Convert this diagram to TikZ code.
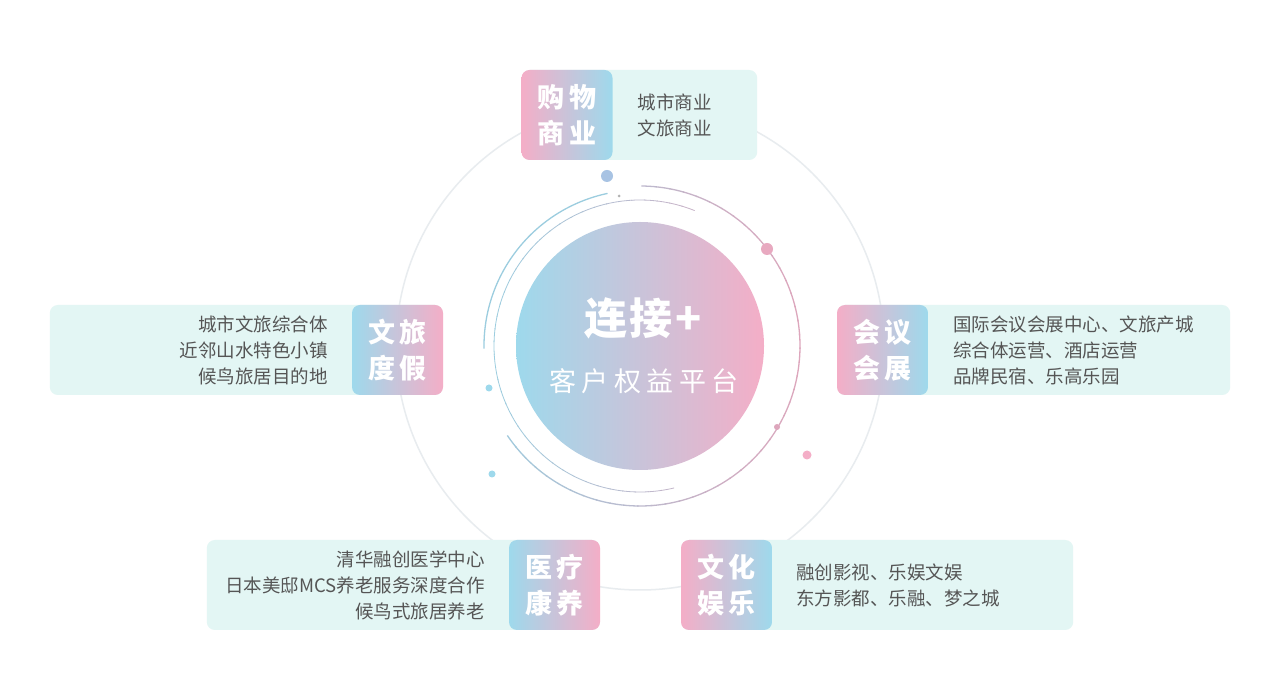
\documentclass[tikz,border=0pt]{standalone}
\usepackage{fontspec}
\setmainfont{Noto Sans CJK SC}
\newfontfamily\labfont[LetterSpace=16]{Noto Sans CJK SC}
\newfontfamily\titlefont[LetterSpace=6]{Noto Sans CJK SC}
\newfontfamily\subfont[LetterSpace=20]{Noto Sans CJK SC}
\usetikzlibrary{positioning}
\definecolor{skyblue}{HTML}{9ED9EC}
\definecolor{rosepink}{HTML}{F4AEC7}
\definecolor{mint}{HTML}{E3F6F4}
\definecolor{ringgray}{HTML}{E8ECEF}
\definecolor{arcblue}{HTML}{9CCDDF}
\definecolor{arcpink}{HTML}{DDA6BC}
\definecolor{dotblue}{HTML}{A8C3E3}
\definecolor{txtgray}{HTML}{555555}
\tikzset{
  panel/.style={fill=mint, rounded corners=8pt, minimum height=90pt, inner sep=0pt},
  tag/.style={rounded corners=8pt, minimum width=91pt, minimum height=90pt, inner sep=0pt,
    text=white, align=center, font=\labfont\bfseries\fontsize{27}{36}\selectfont},
  tagpb/.style={tag, left color=rosepink, right color=skyblue},
  tagbp/.style={tag, left color=skyblue, right color=rosepink},
  items/.style={text=txtgray, font=\fontsize{18.5}{26}\selectfont, inner sep=0pt},
  dot/.style={circle, inner sep=0pt, minimum size=#1},
}

\begin{document}
\begin{tikzpicture}[x=1pt,y=1pt]
\fill[white] (0,0) rectangle (1280,699);
\useasboundingbox (0,0) rectangle (1280,699);
\coordinate (c) at (640,353);

% rings
\draw[ringgray, line width=1.5pt] (c) circle[radius=244pt];
\foreach \a [evaluate=\a as \p using {50+50*cos(\a+2.5)}] in {-146,-141,...,84}
  \draw[arcpink!\p!arcblue, line width=1.3pt] ([shift={(\a:160pt)}]c) arc[start angle=\a, end angle=\a+5.5, radius=160pt];
\foreach \a [evaluate=\a as \p using {50+50*cos(\a+2.5)}] in {68,73,...,278}
  \draw[arcpink!\p!arcblue, line width=0.8pt] ([shift={(\a:146pt)}]c) arc[start angle=\a, end angle=\a+5.5, radius=146pt];
\draw[arcblue, line width=1.3pt] ([shift={(102:156pt)}]c) arc[start angle=102, end angle=181, radius=156pt];

% dots
\node[dot=12pt, fill=dotblue] (d1) at (607,523) {};
\node[dot=3pt, fill=gray!60] (d2) at (619,503) {};
\node[dot=12pt, fill=rosepink!90!gray] (d3) at (767,450) {};
\node[dot=6pt, fill=arcpink] (d4) at (777,272) {};
\node[dot=9pt, fill=rosepink] (d5) at (807,244) {};
\node[dot=7pt, fill=skyblue] (d6) at (489,311) {};
\node[dot=7pt, fill=skyblue] (d7) at (492,225) {};

% centre
\shade[left color=skyblue, right color=rosepink] (c) circle[radius=124pt];
\node[text=white, font=\titlefont\bfseries\fontsize{43}{43}\selectfont] (title) at (643,381) {连接+};
\node[text=white, font=\subfont\fontsize{27}{27}\selectfont] (subtitle) at (644,318) {客户权益平台};

% top
\node[panel, minimum width=235pt, anchor=west] (shoppanel) at (522,584) {};
\node[tagpb] (shop) at (567,584) {购物\\商业};
\node[items, align=left, right=25pt of shop] (shopitems) {城市商业\\文旅商业};

% left
\node[panel, minimum width=393pt, anchor=east] (travelpanel) at (443,349) {};
\node[tagbp] (travel) at (397.5,349) {文旅\\度假};
\node[items, align=right, left=24pt of travel] (travelitems) {城市文旅综合体\\近邻山水特色小镇\\候鸟旅居目的地};

% right
\node[panel, minimum width=393pt, anchor=west] (meetpanel) at (837,349) {};
\node[tagpb] (meet) at (882.5,349) {会议\\会展};
\node[items, align=left, right=25pt of meet] (meetitems) {国际会议会展中心、文旅产城\\综合体运营、酒店运营\\品牌民宿、乐高乐园};

% bottom left
\node[panel, minimum width=393pt, anchor=east] (carepanel) at (600,114) {};
\node[tagbp] (care) at (554.5,114) {医疗\\康养};
\node[items, align=right, left=24pt of care] (careitems) {清华融创医学中心\\日本美邸MCS养老服务深度合作\\候鸟式旅居养老};

% bottom right
\node[panel, minimum width=392pt, anchor=west] (funpanel) at (681,114) {};
\node[tagpb] (fun) at (726.5,114) {文化\\娱乐};
\node[items, align=left, right=24pt of fun] (funitems) {融创影视、乐娱文娱\\东方影都、乐融、梦之城};
\end{tikzpicture}
\end{document}
